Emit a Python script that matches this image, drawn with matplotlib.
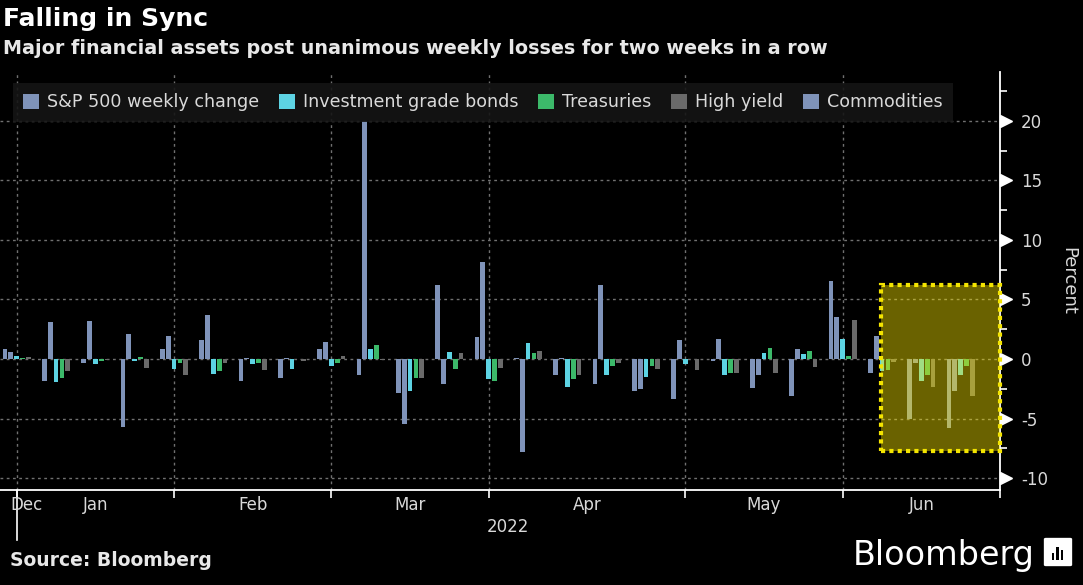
import numpy as np
import matplotlib
matplotlib.use("Agg")
import matplotlib.pyplot as plt
from matplotlib.patches import Rectangle, FancyBboxPatch
import matplotlib.transforms as mtransforms

plt.rcParams["axes.unicode_minus"] = False

# weekly % changes, week ending Dec 31 2021 .. Jun 17 2022
weeks = ["2021-12-31", "2022-01-07", "2022-01-14", "2022-01-21", "2022-01-28",
         "2022-02-04", "2022-02-11", "2022-02-18", "2022-02-25", "2022-03-04",
         "2022-03-11", "2022-03-18", "2022-03-25", "2022-04-01", "2022-04-08",
         "2022-04-14", "2022-04-22", "2022-04-29", "2022-05-06", "2022-05-13",
         "2022-05-20", "2022-05-27", "2022-06-03", "2022-06-10", "2022-06-17"]
sp500 = [0.81, -1.82, -0.31, -5.74, 0.81, 1.57, -1.82, -1.57, 0.81, -1.34,
         -2.83, 6.22, 1.82, 0.06, -1.34, -2.07, -2.72, -3.33, -0.17, -2.46,
         -3.11, 6.58, -1.20, -5.07, -5.83]
commodities = [0.56, 3.08, 3.22, 2.07, 1.96, 3.73, 0.08, 0.05, 1.43, 20.0,
               -5.46, -2.07, 8.15, -7.79, 0.08, 6.22, -2.55, 1.57, 1.68, -1.34,
               0.81, 3.56, 1.93, -0.36, -2.66]
ig_bonds = [0.25, -1.96, -0.45, -0.18, -0.84, -1.23, -0.45, -0.81, -0.56, 0.81,
            -2.69, 0.56, -1.71, 1.32, -2.32, -1.34, -1.48, -0.45, -1.34, 0.53,
            0.42, 1.68, -1.00, -1.82, -1.34]
treasuries = [0.05, -1.57, -0.14, 0.17, -0.31, -0.98, -0.34, 0.03, -0.31, 1.18,
              -1.57, -0.84, -1.85, 0.53, -1.71, -0.59, -0.59, 0.03, -1.20, 0.92,
              0.67, 0.28, -0.90, -1.34, -0.59]
high_yield = [0.14, -0.98, -0.05, -0.73, -1.34, -0.31, -0.95, -0.20, 0.25, -0.11,
              -1.57, 0.53, -0.73, 0.67, -1.34, -0.31, -0.84, -0.92, -1.20, -1.20,
              -0.70, 3.31, -0.22, -2.32, -3.08]

month_ticks = [0, 4, 8, 12, 17, 21, 25]
month_names = ["Dec", "Jan", "Feb", "Mar", "Apr", "May", "Jun"]
month_pos = [0.25, 2, 6, 10, 14.5, 19, 23]
hl_x = (21.97, 25.0)
hl_y = (-7.7, 6.2)

BLUE = "#7f93b9"
CYAN = "#5dd3e3"
GREEN = "#3cb96a"
GREY = "#6a6a6a"
TXT = "#d9d9d9"

fig = plt.figure(figsize=(10.83, 5.85), dpi=100, facecolor="black")
ax = fig.add_axes([0.0, 0.1624, 0.9234, 0.7146])
ax.set_facecolor("black")

x = np.arange(len(weeks))
step = 0.149
w = 0.12
# bar order inside a week: S&P, commodities, IG, treasuries, HY
series = [(sp500, BLUE, "S&P 500 weekly change"),
          (commodities, BLUE, "Commodities"),
          (ig_bonds, CYAN, "Investment grade bonds"),
          (treasuries, GREEN, "Treasuries"),
          (high_yield, GREY, "High yield")]
handles = {}
for j, (vals, col, lab) in enumerate(series):
    b = ax.bar(x + (j - 2) * step, vals, width=w, color=col, label=lab, zorder=3)
    handles[lab] = b

ax.set_xlim(-0.425, 25.0)
ax.set_ylim(-11.0, 24.1)

# grid
for yv in [-10, -5, 0, 5, 10, 15, 20]:
    ax.axhline(yv, color="#707070", lw=1, ls=(0, (2, 2.5)), zorder=1)
for xv in month_ticks[:-1]:
    ax.axvline(xv, color="#707070", lw=1, ls=(0, (2, 2.5)), zorder=1)

# highlight box
ax.add_patch(Rectangle((hl_x[0], hl_y[0]), hl_x[1] - hl_x[0], hl_y[1] - hl_y[0],
                       facecolor=(1.0, 0.92, 0.0, 0.42), edgecolor="#f3e400",
                       lw=3, ls=(0, (1, 1)), zorder=5, clip_on=False))

# spines
for s in ["top", "left"]:
    ax.spines[s].set_visible(False)
ax.spines["bottom"].set_color("white")
ax.spines["right"].set_color("white")
ax.spines["bottom"].set_linewidth(1.3)
ax.spines["right"].set_linewidth(1.3)

# x axis
ax.set_xticks(month_ticks)
ax.set_xticklabels([])
ax.tick_params(axis="x", colors="white", length=6, width=1.2, direction="out")
xtr = mtransforms.blended_transform_factory(ax.transData, ax.transAxes)
for p, m in zip(month_pos, month_names):
    ax.text(p, -0.015, m, transform=xtr, ha="center", va="top", color=TXT, fontsize=12)
ax.text(12.5, -0.067, "2022", transform=xtr, ha="center", va="top", color=TXT, fontsize=12)
ax.plot([0, 0], [0, -0.12], transform=xtr, color="white", lw=1.2, clip_on=False)

# y axis on right
ax.yaxis.tick_right()
ax.set_yticks([-10, -5, 0, 5, 10, 15, 20])
ax.set_yticks(np.arange(-7.5, 24, 5), minor=True)
ax.tick_params(axis="y", which="major", length=0, pad=15, labelcolor=TXT, labelsize=12)
ax.tick_params(axis="y", which="minor", length=5, width=1.2, color="white", direction="out")
ytr = mtransforms.blended_transform_factory(ax.transAxes, ax.transData)
ax.plot([1.006] * 7, [-10, -5, 0, 5, 10, 15, 20], transform=ytr, ls="none",
        marker=">", ms=8, color="white", clip_on=False)
ax.yaxis.set_label_position("right")
ax.set_ylabel("Percent", rotation=270, color=TXT, fontsize=13, labelpad=21)

# legend
order = ["S&P 500 weekly change", "Investment grade bonds", "Treasuries",
         "High yield", "Commodities"]
leg = ax.legend([handles[k] for k in order], order, ncol=5, loc="upper left",
                bbox_to_anchor=(0.004, 0.995), frameon=True, facecolor="#151515",
                edgecolor="none", framealpha=0.9, fontsize=12.6, handlelength=0.9,
                handleheight=0.9, handletextpad=0.45, columnspacing=1.15,
                borderpad=0.6, fancybox=False)
for t in leg.get_texts():
    t.set_color(TXT)
leg.set_zorder(6)

# titles
fig.text(0.003, 0.988, "Falling in Sync", color="white", fontsize=18,
         fontweight="bold", ha="left", va="top")
fig.text(0.003, 0.933, "Major financial assets post unanimous weekly losses for two weeks in a row",
         color="#e8e8e8", fontsize=13.8, fontweight="bold", ha="left", va="top")
fig.text(0.009, 0.042, "Source: Bloomberg", color="#e8e8e8", fontsize=13.5,
         fontweight="bold", ha="left", va="center")
fig.text(0.955, 0.05, "Bloomberg", color="white", fontsize=24, ha="right", va="center")

# small logo icon
ix, iy, iw, ih = 1046 / 1083, 20 / 585, 24 / 1083, 26 / 585
fig.patches.append(FancyBboxPatch((ix, iy), iw, ih, boxstyle="round,pad=0.002",
                                  transform=fig.transFigure, facecolor="white",
                                  edgecolor="none"))
for k, hgt in enumerate([0.35, 0.6, 0.45]):
    fig.patches.append(Rectangle((ix + iw * (0.25 + 0.18 * k), iy + ih * 0.2),
                                 iw * 0.1, ih * hgt * 0.8, transform=fig.transFigure,
                                 facecolor="black", edgecolor="none"))

fig.savefig("out.png", dpi=100, facecolor="black")
